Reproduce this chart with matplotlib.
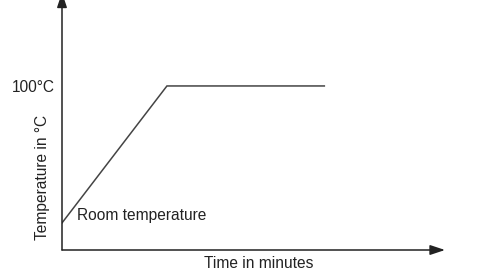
import matplotlib.pyplot as plt

plt.rcParams['font.family'] = ['Liberation Sans', 'DejaVu Sans']

# heating curve: room temperature up to boiling, then flat
time_min = [0, 10, 25]
temp_c = [20, 100, 100]
ytick_vals = [100]
ytick_labels = ['100°C']

fig = plt.figure(figsize=(4.83, 2.73), dpi=100)
ax = fig.add_axes([62 / 483, 23 / 273, 383 / 483, 250 / 273])
ax.set_xlim(0, 36.5)
ax.set_ylim(4.2, 150.2)

ax.plot(time_min, temp_c, color='#444444', lw=1.1, solid_joinstyle='miter')

# axes drawn as arrows
for s in ax.spines.values():
    s.set_visible(False)
arrow = dict(arrowstyle='-|>,head_length=0.9,head_width=0.3', color='#222222', lw=1.1,
             shrinkA=0, shrinkB=0)
ax.annotate('', xy=(1, 0), xytext=(0, 0), xycoords='axes fraction', arrowprops=arrow)
ax.annotate('', xy=(0, 1.03), xytext=(0, 0), xycoords='axes fraction', arrowprops=arrow,
            annotation_clip=False)

ax.set_xticks([])
ax.set_yticks(ytick_vals)
ax.set_yticklabels(ytick_labels, fontsize=11.2, color='#222222')
ax.tick_params(axis='y', length=0, pad=5)

ax.annotate('Room temperature', xy=(0, temp_c[0]), xytext=(15, 7), textcoords='offset pixels',
            fontsize=11.2, color='#222222', va='center')

ax.text(0.514, -0.052, 'Time in minutes', transform=ax.transAxes, fontsize=11.2,
        color='#222222', ha='center', va='center')
ax.text(-0.052, 0.292, 'Temperature in °C', transform=ax.transAxes, fontsize=11.2,
        color='#222222', ha='center', va='center', rotation=90)

fig.savefig('out.png', dpi=100, facecolor='white')
